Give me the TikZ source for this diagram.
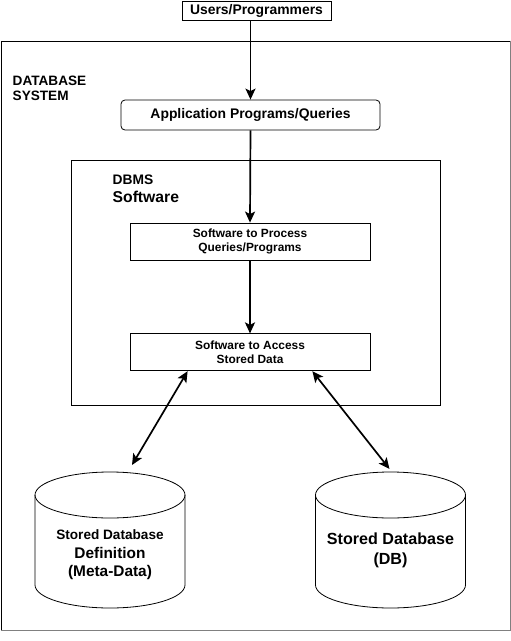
\documentclass[tikz,border=0pt]{standalone}
\usepackage{fontspec}
\setmainfont{Liberation Sans}
\usetikzlibrary{positioning, shapes.geometric, arrows.meta}

\begin{document}
\begin{tikzpicture}[x=1pt, y=-1pt,
		box/.style={rectangle, draw, line width=0.8pt, inner sep=0pt, align=center, font=\bfseries},
		store/.style={draw, line width=0.8pt},
		lbl/.style={inner sep=0pt, align=left, font=\bfseries},
		link/.style={line width=1.7pt, -{Stealth[length=11pt, width=10pt, inset=2.5pt]}},
		duplex/.style={line width=1.7pt, {Stealth[length=11pt, width=10pt, inset=2.5pt]}-{Stealth[length=11pt, width=10pt, inset=2.5pt]}}]
	\useasboundingbox (0,0) rectangle (511,641);
	
	% Sistema di database
	\node[box, minimum width=509pt, minimum height=589pt] (system) at (255.5,335.5) {};
	\draw[gray, line width=1.5pt] (system.north east) -- (system.south east) -- (system.south west);
	\node[lbl, anchor=west, font=\bfseries\fontsize{13.6}{15.3}\selectfont] (systemlbl) at (12.5,88.3) {DATABASE\\SYSTEM};
	
	% Utenti e applicazioni
	\node[box, minimum width=149pt, minimum height=19pt, font=\bfseries\fontsize{13.9}{16}\selectfont] (users) at (256.5,10.5) {Users/Programmers};
	\node[box, rounded corners=4pt, minimum width=259pt, minimum height=30pt, font=\bfseries\fontsize{13.9}{16}\selectfont] (appq) at (250.5,115) {Application Programs/Queries};
	
	% Software del DBMS
	\node[box, minimum width=369pt, minimum height=245pt] (dbms) at (255.5,282.5) {};
	\node[lbl, anchor=west, font=\bfseries\fontsize{15.7}{18}\selectfont] (dbmslbl) at (112.5,188.3) {{\fontsize{13.8}{18}\selectfont DBMS}\\Software};
	\node[box, minimum width=240pt, minimum height=37pt, font=\bfseries\fontsize{11.9}{13.8}\selectfont] (proc) at (250,241.5) {Software to Process\\Queries/Programs};
	\node[box, minimum width=240pt, minimum height=37pt, font=\bfseries\fontsize{11.9}{14.5}\selectfont, below=73pt of proc] (access) {Software to Access\\Stored Data};
	
	% Archivi (cilindri)
	\coordinate (dbdef) at (110,540);
	\draw[store] ([shift={(-75,-45)}]dbdef) -- ([shift={(-75,45)}]dbdef) arc[start angle=180, end angle=360, x radius=75pt, y radius=23pt] -- ([shift={(75,-45)}]dbdef);
	\draw[store] ([shift={(0,-45)}]dbdef) ellipse[x radius=75pt, y radius=23pt];
	\node[inner sep=0pt, align=center, font=\bfseries\fontsize{15.4}{18.5}\selectfont] (dbdeftxt) at ([yshift=-15pt]dbdef) {{\fontsize{13.6}{18.5}\selectfont Stored Database}\\Definition\\(Meta-Data)};
	
	\coordinate (db) at (390.5,540);
	\draw[store] ([shift={(-75,-45)}]db) -- ([shift={(-75,45)}]db) arc[start angle=180, end angle=360, x radius=75pt, y radius=23pt] -- ([shift={(75,-45)}]db);
	\draw[store] ([shift={(0,-45)}]db) ellipse[x radius=75pt, y radius=23pt];
	\node[inner sep=0pt, align=center, font=\bfseries\fontsize{16.1}{20}\selectfont] (dbtxt) at ([yshift=-10.5pt]db) {Stored Database\\(DB)};
	
	% Connessioni
	\draw[link] (users.south -| appq.north) -- (appq.north);
	\draw[link] (appq.south) -- (proc.north);
	\draw[link] (proc) -- (access);
	\draw[duplex] ([xshift=58pt]access.south west) -- ([xshift=22pt, yshift=75pt]dbdef);
	\draw[duplex] ([xshift=-58pt]access.south east) -- ([xshift=-1pt, yshift=71pt]db);
\end{tikzpicture}
\end{document}
